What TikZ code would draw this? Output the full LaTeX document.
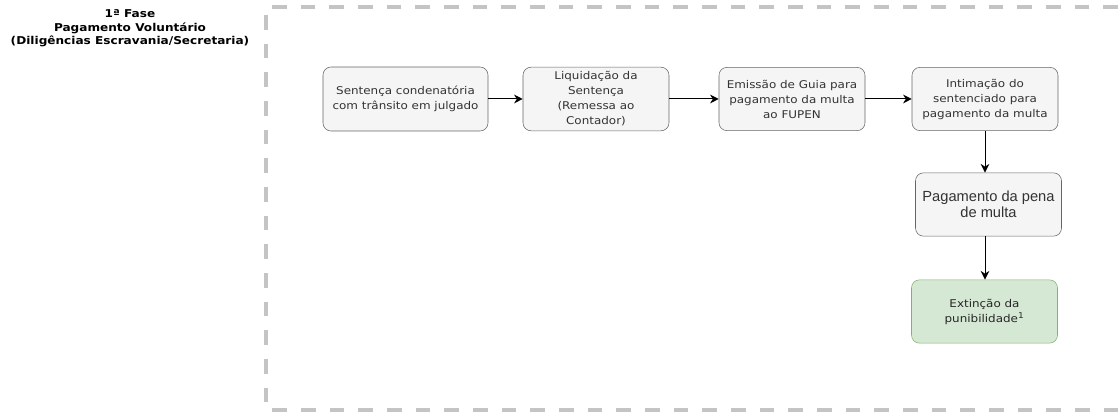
\documentclass[tikz,border=0pt]{standalone}
\usepackage{fontspec}
\setmainfont{DejaVu Sans}[FakeStretch=1.12]
\newfontfamily\arialfont{Liberation Sans}
\usetikzlibrary{arrows.meta}
\definecolor{caixafundo}{HTML}{F5F5F5}
\definecolor{caixaborda}{HTML}{666666}
\definecolor{caixatexto}{HTML}{333333}
\definecolor{verdefundo}{HTML}{D5E8D4}
\definecolor{verdeborda}{HTML}{82B366}
\definecolor{moldura}{HTML}{C4C4C4}
\tikzset{
    etapa/.style={draw=caixaborda, fill=caixafundo, text=caixatexto, rounded corners=6pt,
        minimum width=109.5pt, minimum height=47.5pt, align=center,
        font=\fontsize{8}{11.25}\selectfont},
    final/.style={etapa, draw=verdeborda, fill=verdefundo, text=black!85},
    seta/.style={-{Stealth[length=6.5pt,width=6.5pt]}, line width=0.75pt, black}
}
\begin{document}
\begin{tikzpicture}[x=0.75pt, y=-0.75pt]
                \useasboundingbox (0,0) rectangle (1118,413);
                % moldura tracejada da fase
                \draw[moldura, line width=3pt, dash pattern=on 11pt off 10.5pt]
                    (1118,7) -- (266,7) -- (266,410) -- (1118,410);
                % titulo
                \node[align=center, font=\bfseries\fontsize{8.1}{10.1}\selectfont] (titulo) at (130,28.5)
                    {1ª Fase\\Pagamento Voluntário\\(Diligências Escravania/Secretaria)};
                % etapas
                \node[etapa, minimum width=123.75pt, minimum height=48pt] (sentenca) at (405.5,99)
                    {Sentença condenatória\\com trânsito em julgado};
                \node[etapa] (liquidacao) at (596,99) {Liquidação da\\Sentença\\(Remessa ao\\Contador)};
                \node[etapa] (guia) at (792,99) {Emissão de Guia para\\pagamento da multa\\ao FUPEN};
                \node[etapa] (intimacao) at (985,99) {Intimação do\\sentenciado para\\pagamento da multa};
                \node[etapa, font=\arialfont\fontsize{11}{12.2}\selectfont] (pagamento) at (988.5,204.5)
                    {Pagamento da pena\\de multa};
                \node[final] (extincao) at (984.5,311.5) {Extinção da\\punibilidade\textsuperscript{1}};
                % setas
                \draw[seta] (sentenca) -- (liquidacao);
                \draw[seta] (liquidacao) -- (guia);
                \draw[seta] (guia) -- (intimacao);
                \draw[seta] (intimacao.south) -- (intimacao.south |- pagamento.north);
                \draw[seta] (intimacao.south |- pagamento.south) -- (intimacao.south |- extincao.north);
            \end{tikzpicture}
\end{document}
